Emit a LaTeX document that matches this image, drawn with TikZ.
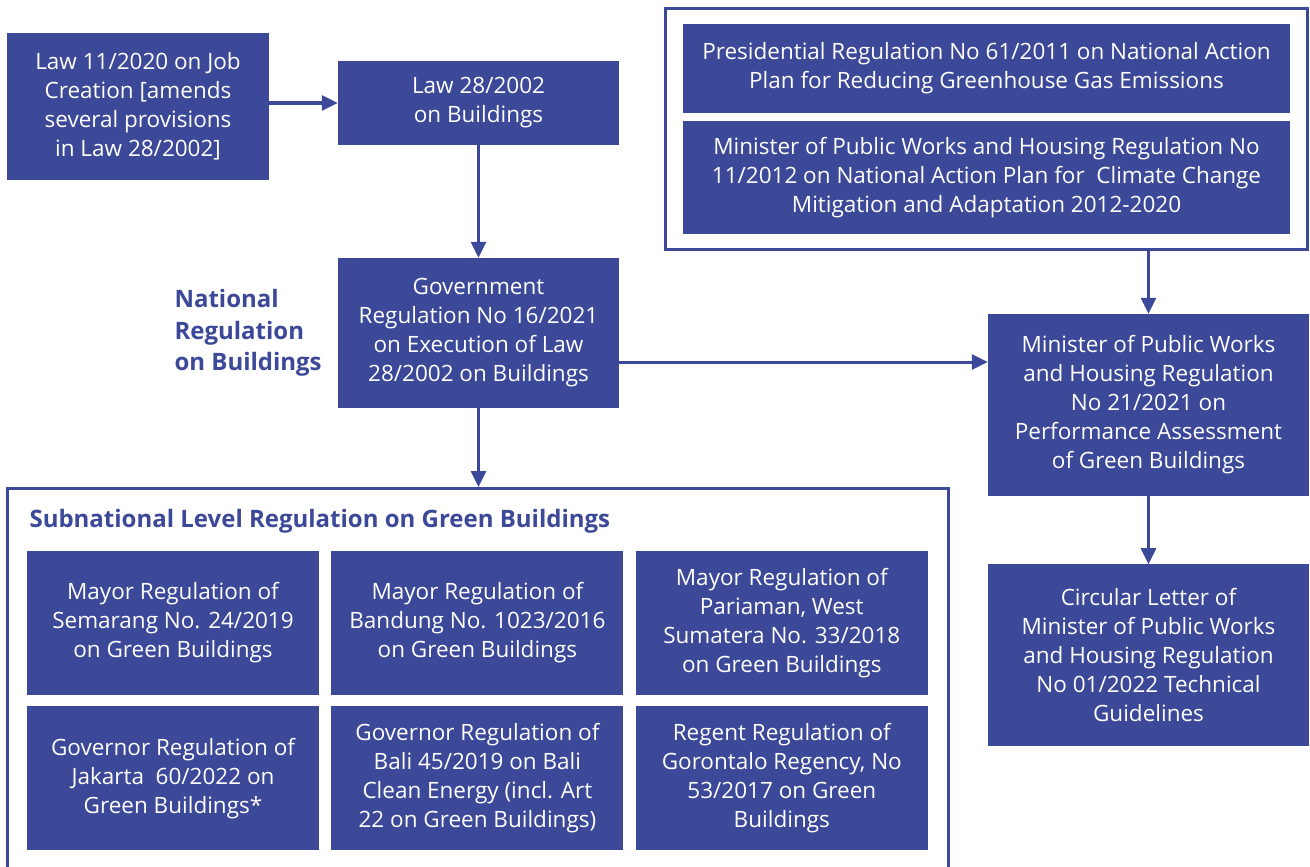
\documentclass[tikz,border=0pt]{standalone}
\usepackage{fontspec}
\setmainfont{Open Sans}
\usetikzlibrary{positioning,arrows.meta,fit}
\definecolor{navy}{HTML}{3C4898}

\begin{document}
\begin{tikzpicture}[x=1pt,y=-1pt,font=\fontsize{22.5}{29}\selectfont,>={Triangle[length=16pt,width=15pt]},
  b/.style={fill=navy,text=white,inner sep=0pt,align=center},
  cell/.style={b,minimum width=292pt,minimum height=144pt},
  frm/.style={draw=navy,line width=3pt},
  arr/.style={->,draw=navy,line width=3pt},
  hd/.style={text=navy,font=\fontsize{24}{31.5}\selectfont\bfseries}]
\clip (0,0) rectangle (1310,867);
% national chain
\node[b,minimum width=262pt,minimum height=147pt](job) at (138,106.5){Law 11/2020 on Job\\Creation [amends\\several provisions\\in Law 28/2002]};
\node[b,minimum width=281pt,minimum height=84pt](law) at (478.5,103){Law 28/2002\\on Buildings};
\node[b,minimum width=281pt,minimum height=150pt](gr) at (478.5,333){Government\\Regulation No 16/2021\\on Execution of Law\\28/2002 on Buildings};
\node[hd,align=left,anchor=west](nat) at (171,333){National\\Regulation\\on Buildings};
% action plans
\node[b,minimum width=607pt,minimum height=89pt](pr) at (986.5,68.5){Presidential Regulation No 61/2011 on National Action\\Plan for Reducing Greenhouse Gas Emissions};
\node[b,minimum width=607pt,minimum height=113pt](pm) at (986.5,177.5){Minister of Public Works and Housing Regulation No\\11/2012 on National Action Plan for\ \ Climate Change\\Mitigation and Adaptation 2012-2020};
\node[frm,fit=(pr)(pm),inner xsep=17pt,inner ysep=15pt](nap){};
\node[b,minimum width=321pt,minimum height=182pt](pw) at (1148.5,405){Minister of Public Works\\and Housing Regulation\\No 21/2021 on\\Performance Assessment\\of Green Buildings};
\node[b,minimum width=321pt,minimum height=182pt,below=68pt of pw](cl){Circular Letter of\\Minister of Public Works\\and Housing Regulation\\No 01/2022 Technical\\Guidelines};
% subnational
\node[frm,minimum width=941pt,minimum height=420pt,anchor=north](sub) at (477.5,487){};
\node[hd,anchor=west](subt) at (26,521){Subnational Level Regulation on Green Buildings};
\node[cell](smg) at (173,623){Mayor Regulation of\\Semarang No. 24/2019\\on Green Buildings};
\node[cell,right=12pt of smg](bdg){Mayor Regulation of\\Bandung No. 1023/2016\\on Green Buildings};
\node[cell,right=12pt of bdg](prm){Mayor Regulation of\\Pariaman, West\\Sumatera No. 33/2018\\on Green Buildings};
\node[cell,below=11pt of smg](jkt){Governor Regulation of\\Jakarta\ \ 60/2022 on\\Green Buildings*};
\node[cell,right=12pt of jkt](bli){Governor Regulation of\\Bali 45/2019 on Bali\\Clean Energy (incl. Art\\22 on Green Buildings)};
\node[cell,right=12pt of bli](gtl){Regent Regulation of\\Gorontalo Regency, No\\53/2017 on Green\\Buildings};
% connectors
\draw[arr](job.east|-law.west)--(law.west);\draw[arr](law)--(gr);
\draw[arr](gr.south)--(gr.south|-sub.north);
\draw[arr]([yshift=-29pt]gr.east)--([yshift=-29pt]gr.east-|pw.west);
\draw[arr](nap.south-|pw)--(pw);\draw[arr](pw)--(cl);
\end{tikzpicture}
\end{document}
